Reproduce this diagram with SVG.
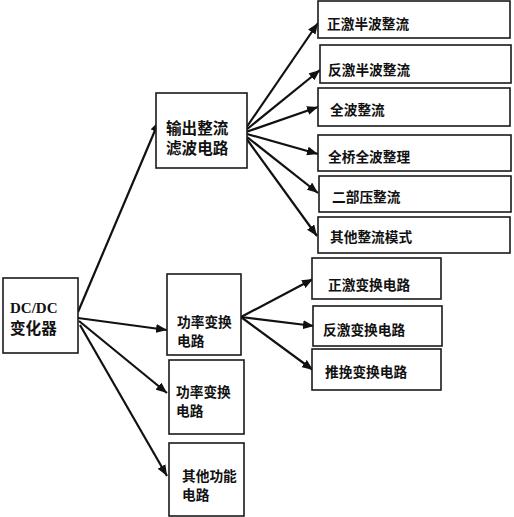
<svg xmlns="http://www.w3.org/2000/svg" width="514" height="517" viewBox="0 0 514 517">
<style>
.box{fill:#fff;stroke:#1a1a1a;stroke-width:1.6}
.t{font-family:"Noto Sans CJK SC","Noto Sans",sans-serif;font-weight:bold;fill:#111;font-size:13.7px}
.tl{font-family:"Noto Sans CJK SC","Noto Sans",sans-serif;font-weight:bold;fill:#111;font-size:15.6px}
.lat{font-family:"Liberation Serif","Noto Sans CJK SC",serif;font-weight:bold;fill:#111;font-size:15px}
.c line{stroke:#111;stroke-width:2.2;marker-end:url(#ah)}
</style>
<defs>
<marker id="ah" markerUnits="userSpaceOnUse" markerWidth="12" markerHeight="9" refX="11" refY="4.5" orient="auto">
<path d="M0,0 L11,4.5 L0,9 Z" fill="#111"/>
</marker>
</defs>
<rect width="514" height="517" fill="#fff"/>
<g class="c">
<line x1="78" y1="312" x2="159" y2="121"/>
<line x1="78" y1="318" x2="167" y2="330"/>
<line x1="79" y1="321" x2="167" y2="393"/>
<line x1="80" y1="325" x2="167" y2="476"/>
<line x1="246" y1="128" x2="318" y2="23"/>
<line x1="246" y1="130" x2="320" y2="70"/>
<line x1="246" y1="132" x2="318" y2="107"/>
<line x1="247" y1="134" x2="318" y2="154"/>
<line x1="247" y1="137" x2="318" y2="193"/>
<line x1="246" y1="138" x2="317" y2="236"/>
<line x1="241" y1="317" x2="313" y2="279"/>
<line x1="241" y1="317" x2="314" y2="326"/>
<line x1="241" y1="317" x2="313" y2="370"/>
</g>
<g id="dcdc"><rect class="box" x="3" y="278" width="75" height="75"/><text class="lat" x="10" y="313">DC/DC</text><text class="tl" x="10" y="334">变化器</text></g>
<g id="output"><rect class="box" x="156" y="93" width="91" height="75"/><text class="tl" x="166" y="134">输出整流</text><text class="tl" x="166" y="154">滤波电路</text></g>
<g id="n1"><rect class="box" x="318" y="1" width="192" height="37"/><text class="t" x="327" y="29">正激半波整流</text></g>
<g id="n2"><rect class="box" x="320" y="45" width="191" height="38"/><text class="t" x="328" y="75">反激半波整流</text></g>
<g id="n3"><rect class="box" x="318" y="88" width="192" height="38"/><text class="t" x="330" y="115">全波整流</text></g>
<g id="n4"><rect class="box" x="318" y="135" width="193" height="36"/><text class="t" x="328" y="162">全桥全波整理</text></g>
<g id="n5"><rect class="box" x="319" y="176" width="192" height="36"/><text class="t" x="332" y="202">二部压整流</text></g>
<g id="n6"><rect class="box" x="318" y="217" width="192" height="36"/><text class="t" x="330" y="242">其他整流模式</text></g>
<g id="power1"><rect class="box" x="167" y="274" width="74" height="81"/><text class="t" x="177" y="327">功率变换</text><text class="t" x="177" y="346">电路</text></g>
<g id="power2"><rect class="box" x="169" y="360" width="75" height="74"/><text class="t" x="176" y="397">功率变换</text><text class="t" x="176" y="416">电路</text></g>
<g id="other"><rect class="box" x="169" y="443" width="75" height="73"/><text class="t" x="182" y="481">其他功能</text><text class="t" x="182" y="500">电路</text></g>
<g id="m1"><rect class="box" x="312" y="258" width="129" height="41"/><text class="t" x="328" y="290">正激变换电路</text></g>
<g id="m2"><rect class="box" x="313" y="306" width="129" height="40"/><text class="t" x="323" y="335">反激变换电路</text></g>
<g id="m3"><rect class="box" x="312" y="349" width="129" height="41"/><text class="t" x="325" y="377">推挽变换电路</text></g>
</svg>
